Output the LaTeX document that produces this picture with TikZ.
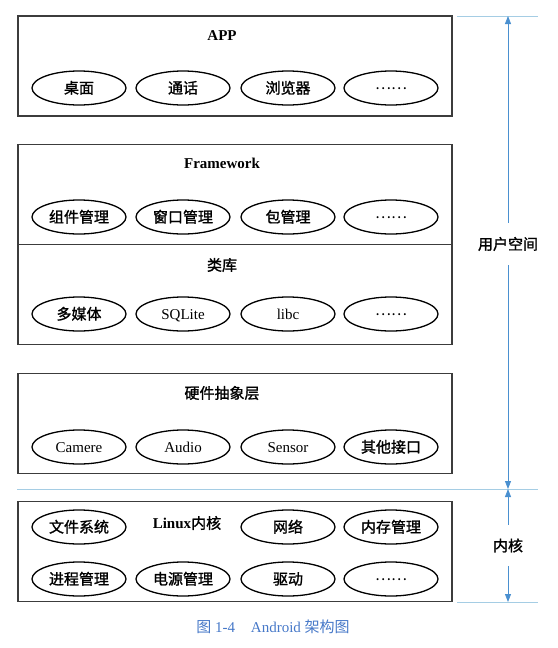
\documentclass[tikz,border=0pt]{standalone}
\usepackage{fontspec}
\setmainfont{Liberation Serif}
\newfontfamily\cjk{Noto Sans CJK SC}
\newfontfamily\cjkm[FakeBold=1.4]{Noto Sans CJK SC}
\usetikzlibrary{shapes.geometric,arrows.meta}
\definecolor{dimblue}{RGB}{74,144,208}
\definecolor{lineblue}{RGB}{165,205,228}
\definecolor{capblue}{RGB}{70,120,200}
\definecolor{boxgray}{RGB}{60,60,60}
\newcommand{\zhb}[1]{{\cjkm\mdseries #1}}
\newcommand{\etc}{\raisebox{4pt}{\cjk ……}}

\begin{document}
\begin{tikzpicture}[x=1pt, y=-1pt]
	\tikzstyle{every node} = [inner sep=0pt, font=\fontsize{15}{17}\selectfont]
	\tikzstyle{layer} = [rectangle, draw=boxgray, line width=1.4pt, minimum width=434pt, minimum height=100pt]
	\tikzstyle{module} = [ellipse, draw=black, line width=1.3pt, minimum width=94pt, minimum height=34pt, text height=12pt, text depth=1pt]
	\tikzstyle{title} = [font=\fontsize{15}{17}\selectfont\bfseries]
	\tikzstyle{dim} = [draw=dimblue, line width=0.8pt, {Triangle[length=8pt,width=6pt]}-{Triangle[length=8pt,width=6pt]}]
	\tikzstyle{guide} = [draw=lineblue, line width=1pt]
	\tikzstyle{dimlabel} = [fill=white, inner xsep=2pt, inner ysep=14pt]
	\useasboundingbox (0,0) rectangle (557,648);
	% layers
	\node[layer] (APP) at (235,66) {};
	\node[layer] (FW) at (235,194.5) {};
	\node[layer] (LIB) at (235,294.5) {};
	\node[layer] (HAL) at (235,423.5) {};
	\node[layer] (KER) at (235,551.5) {};
	% titles
	\node[title] (APPt) at (222,36) {APP};
	\node[title] (FWt) at (222,163) {Framework};
	\node[title] (LIBt) at (222,265) {\zhb{类库}};
	\node[title] (HALt) at (222,393) {\zhb{硬件抽象层}};
	\node[title] (KERt) at (187,523) {Linux\zhb{内核}};
	% APP
	\node[module] (A1) at (79,88) {\zhb{桌面}};
	\node[module] (A2) at (183,88) {\zhb{通话}};
	\node[module] (A3) at (288,88) {\zhb{浏览器}};
	\node[module] (A4) at (391,88) {\etc};
	% Framework
	\node[module] (F1) at (79,217) {\zhb{组件管理}};
	\node[module] (F2) at (183,217) {\zhb{窗口管理}};
	\node[module] (F3) at (288,217) {\zhb{包管理}};
	\node[module] (F4) at (391,217) {\etc};
	% libraries
	\node[module] (L1) at (79,314) {\zhb{多媒体}};
	\node[module] (L2) at (183,314) {SQLite};
	\node[module] (L3) at (288,314) {libc};
	\node[module] (L4) at (391,314) {\etc};
	% HAL
	\node[module] (H1) at (79,447) {Camere};
	\node[module] (H2) at (183,447) {Audio};
	\node[module] (H3) at (288,447) {Sensor};
	\node[module] (H4) at (391,447) {\zhb{其他接口}};
	% kernel
	\node[module] (K1) at (79,527) {\zhb{文件系统}};
	\node[module] (K3) at (288,527) {\zhb{网络}};
	\node[module] (K4) at (391,527) {\zhb{内存管理}};
	\node[module] (K5) at (79,579) {\zhb{进程管理}};
	\node[module] (K6) at (183,579) {\zhb{电源管理}};
	\node[module] (K7) at (288,579) {\zhb{驱动}};
	\node[module] (K8) at (391,579) {\etc};
	% dimension lines
	\coordinate (G1a) at (457,16);
	\coordinate (G1b) at (538,16);
	\coordinate (G2a) at (17,489);
	\coordinate (G2b) at (538,489);
	\coordinate (G3a) at (457,602);
	\coordinate (G3b) at (538,602);
	\coordinate (Utop) at (508,16);
	\coordinate (Umid) at (508,489);
	\coordinate (Kbot) at (508,602);
	\draw [guide] (G1a)--(G1b);
	\draw [guide] (G2a)--(G2b);
	\draw [guide] (G3a)--(G3b);
	\draw [dim] (Utop)-- node[dimlabel, pos=0.482] (US) {\zhb{用户空间}} (Umid);
	\draw [dim] (Umid)-- node[dimlabel] (KS) {\zhb{内核}} (Kbot);
	% caption
	\node[text=capblue, font=\fontsize{15}{17}\selectfont] (CAP) at (273,627) {{\cjk 图}~1-4\hspace{16pt}Android~{\cjk 架构图}};
\end{tikzpicture}
\end{document}
